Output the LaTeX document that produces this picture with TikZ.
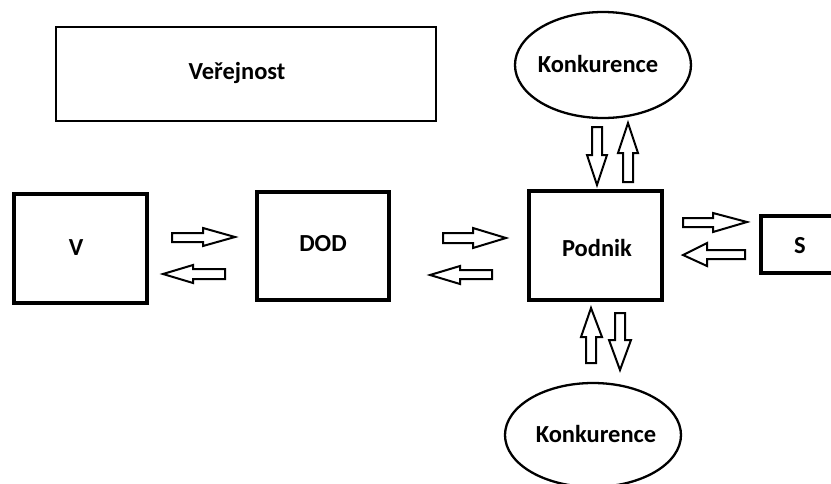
\documentclass[tikz,border=0pt]{standalone}
\usepackage{fontspec}
\setmainfont{Carlito}
\usetikzlibrary{shapes.geometric}
\begin{document}
\begin{tikzpicture}[x=1pt,y=-1pt,
  lbl/.style={font=\fontsize{24.5}{26}\selectfont\bfseries, text=black},
  thickbox/.style={draw=black, line width=4pt, fill=white, inner sep=0pt, lbl},
  thinbox/.style={draw=black, line width=2pt, fill=white, inner sep=0pt, lbl},
  oval/.style={ellipse, draw=black, line width=2.3pt, fill=white, inner sep=0pt, lbl},
  barrow/.style={draw=black, line width=2pt, fill=white, line join=miter}]
\useasboundingbox (0,0) rectangle (831,483);
% boxes
\node[thinbox, minimum width=380pt, minimum height=94pt] (ver) at (246,74) {};
\node[lbl] (vertext) at (237,73) {Veřejnost};
\node[thickbox, minimum width=133pt, minimum height=109pt] (v) at (80.5,248.5) {};
\node[lbl] (vtext) at (76,248) {V};
\node[thickbox, minimum width=132pt, minimum height=108pt] (dod) at (323,246) {};
\node[lbl] (dodtext) at (323,244) {DOD};
\node[thickbox, minimum width=133pt, minimum height=109pt] (pod) at (595.5,245.5) {};
\node[lbl] (podtext) at (597,248) {Podnik};
\node[thickbox, minimum width=120pt, minimum height=57pt] (s) at (821,244.5) {};
\node[lbl] (stext) at (800,246) {S};
\node[oval, minimum width=176pt, minimum height=106pt] (k1) at (603,65) {};
\node[lbl] (k1text) at (598,64) {Konkurence};
\node[oval, minimum width=176pt, minimum height=104pt] (k2) at (593,435) {};
\node[lbl] (k2text) at (596,434) {Konkurence};
% block arrows V <-> DOD
\draw[barrow] (172,233) -- (203,233) -- (203,228) -- (235,237) -- (203,246) -- (203,242) -- (172,242) -- cycle;
\draw[barrow] (163,274) -- (193,265) -- (193,269) -- (225,269) -- (225,279) -- (193,279) -- (193,283) -- cycle;
% DOD <-> Podnik
\draw[barrow] (443,233) -- (473,233) -- (473,228) -- (506,238) -- (473,248) -- (473,243) -- (443,243) -- cycle;
\draw[barrow] (430,275) -- (460,266) -- (460,270) -- (492,270) -- (492,279) -- (460,279) -- (460,284) -- cycle;
% Konkurence (top) <-> Podnik
\draw[barrow] (592,127) -- (602,127) -- (602,155) -- (607,155) -- (597,185) -- (587,155) -- (592,155) -- cycle;
\draw[barrow] (628,123) -- (638,153) -- (633,153) -- (633,182) -- (623,182) -- (623,153) -- (618,153) -- cycle;
% Podnik <-> Konkurence (bottom)
\draw[barrow] (591,308) -- (602,337) -- (596,337) -- (596,363) -- (586,363) -- (586,337) -- (581,337) -- cycle;
\draw[barrow] (615,313) -- (625,313) -- (625,340) -- (631,340) -- (620,370) -- (609,340) -- (615,340) -- cycle;
% Podnik <-> S
\draw[barrow] (683,218) -- (713,218) -- (713,213) -- (747,222) -- (713,232) -- (713,227) -- (683,227) -- cycle;
\draw[barrow] (683,255) -- (707,243) -- (707,250) -- (745,250) -- (745,259) -- (707,259) -- (707,266) -- cycle;
\end{tikzpicture}
\end{document}
